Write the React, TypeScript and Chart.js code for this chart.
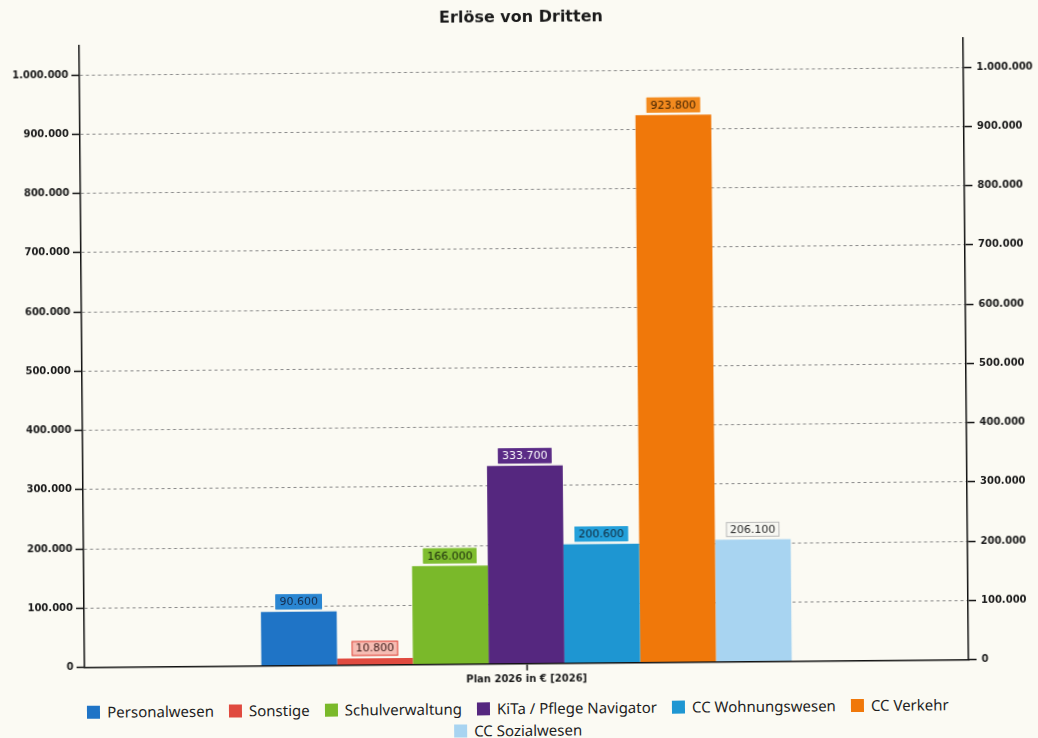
import React, { useEffect, useRef } from "react";
import { Chart, registerables } from "chart.js";

Chart.register(...registerables);

const TITLE = "Erlöse von Dritten";
const CATEGORIES = ["Plan 2026 in € [2026]"];
const SERIES_NAMES = [
  "Personalwesen",
  "Sonstige",
  "Schulverwaltung",
  "KiTa / Pflege Navigator",
  "CC Wohnungswesen",
  "CC Verkehr",
  "CC Sozialwesen",
];
const SERIES_VALUES = [90600, 10800, 166000, 333700, 200600, 923800, 206100];
const SERIES_COLORS = ["#1f74c6", "#e04a3f", "#7ab92a", "#55277f", "#1e96d2", "#f0780a", "#a8d4f1"];
const LABEL_FILLS = ["#2a86d2", "#f6bcb3", "#7fbd30", "#5a2b86", "#24a0da", "#f38a1e", "#f7f7f2"];
const LABEL_BORDERS = ["#2a86d2", "#e04a3f", "#7fbd30", "#5a2b86", "#24a0da", "#f38a1e", "#b9b9b9"];
const LABEL_TEXT = ["#142a4a", "#3a1a18", "#1c2c0c", "#ffffff", "#10283a", "#3a1e00", "#2a2a2a"];
const Y_TICKS = [0, 100000, 200000, 300000, 400000, 500000, 600000, 700000, 800000, 900000, 1000000];
const Y_MAX = 1050000;

const BG = "#fbfaf3";

function fmt(v: number): string {
  return Math.round(v)
    .toString()
    .replace(/\B(?=(\d{3})+(?!\d))/g, ".");
}

const valueLabels = {
  id: "valueLabels",
  afterDatasetsDraw(chart: any) {
    const ctx = chart.ctx;
    ctx.save();
    ctx.font = "11px 'DejaVu Sans'";
    chart.data.datasets.forEach((ds: any, i: number) => {
      const meta = chart.getDatasetMeta(i);
      meta.data.forEach((el: any, j: number) => {
        const text = fmt(ds.data[j]);
        const w = ctx.measureText(text).width + 8;
        const h = 15;
        const x = el.x - w / 2;
        const y = el.y - h - 2.5;
        ctx.fillStyle = LABEL_FILLS[i];
        ctx.fillRect(x, y, w, h);
        ctx.strokeStyle = LABEL_BORDERS[i];
        ctx.lineWidth = 1;
        ctx.strokeRect(x + 0.5, y + 0.5, w - 1, h - 1);
        ctx.fillStyle = LABEL_TEXT[i];
        ctx.textAlign = "center";
        ctx.textBaseline = "middle";
        ctx.fillText(text, el.x, y + h / 2 + 0.5);
      });
    });
    ctx.restore();
  },
};

const tickFont = { family: "'DejaVu Sans'", size: 10, weight: "bold" as const };
const setTicks = (axis: any) => {
  axis.ticks = Y_TICKS.map((v) => ({ value: v }));
};

export default function App() {
  const ref = useRef<HTMLCanvasElement | null>(null);

  useEffect(() => {
    document.body.style.margin = "0";
    document.body.style.background = BG;
    const canvas = ref.current;
    if (!canvas) return;
    const chart = new Chart(canvas, {
      type: "bar",
      data: {
        labels: CATEGORIES,
        datasets: SERIES_NAMES.map((name, i) => ({
          label: name,
          data: [SERIES_VALUES[i]],
          backgroundColor: SERIES_COLORS[i],
          borderWidth: 0,
          barPercentage: 1,
          categoryPercentage: 0.6,
          yAxisID: "y",
        })),
      },
      options: {
        responsive: false,
        animation: false,
        layout: { padding: 0 },
        plugins: {
          title: {
            display: true,
            text: TITLE,
            fullSize: false,
            color: "#1a1a1a",
            font: { family: "'DejaVu Sans'", size: 16, weight: "bold" },
            padding: { top: 8.5, bottom: 13.8 },
          },
          legend: { display: false },
          tooltip: { enabled: false },
        },
        scales: {
          x: {
            offset: true,
            grid: {
              display: true,
              drawOnChartArea: false,
              drawTicks: true,
              tickLength: 7,
              offset: false,
              tickColor: "#111",
              tickWidth: 1.5,
            },
            border: { display: true, color: "#111", width: 1.5 },
            ticks: { font: tickFont, color: "#1a1a1a", padding: 3 },
            afterFit: (s: any) => {
              s.height = 31.5;
            },
          },
          y: {
            position: "left",
            min: 0,
            max: Y_MAX,
            ticks: {
              callback: (v: any) => fmt(Number(v)),
              font: tickFont,
              color: "#1a1a1a",
              padding: 3,
              autoSkip: false,
            },
            grid: {
              color: "#8a8a8a",
              lineWidth: 1,
              drawTicks: true,
              tickLength: 8,
              tickColor: "#111",
              tickWidth: 1.5,
            },
            border: { display: true, color: "#111", width: 1.5, dash: [3, 3] },
            afterBuildTicks: setTicks,
            afterFit: (s: any) => {
              s.width = 82;
            },
          },
          y2: {
            position: "right",
            min: 0,
            max: Y_MAX,
            ticks: {
              callback: (v: any) => fmt(Number(v)),
              font: tickFont,
              color: "#1a1a1a",
              padding: 5,
              autoSkip: false,
            },
            grid: {
              drawOnChartArea: false,
              drawTicks: true,
              tickLength: 8,
              tickColor: "#111",
              tickWidth: 1.5,
            },
            border: { display: true, color: "#111", width: 1.5 },
            afterBuildTicks: setTicks,
            afterFit: (s: any) => {
              s.width = 72;
            },
          },
        },
      },
      plugins: [valueLabels],
    });
    return () => chart.destroy();
  }, []);

  return (
    <div
      style={{
        position: "relative",
        width: 1038,
        height: 738,
        background: BG,
        overflow: "hidden",
        transform: "rotate(-0.5deg)",
        transformOrigin: "50% 50%",
      }}
    >
      <canvas ref={ref} width={1038} height={695} style={{ display: "block" }} />
      <div
        style={{
          position: "absolute",
          left: 55,
          top: 697,
          width: 920,
          display: "flex",
          flexWrap: "wrap",
          justifyContent: "center",
          columnGap: 15,
          rowGap: 0,
          fontFamily: "'Noto Sans'",
          fontSize: 15,
          lineHeight: "22px",
          color: "#1e1e1e",
        }}
      >
        {SERIES_NAMES.map((name, i) => (
          <div key={name} style={{ display: "flex", alignItems: "center" }}>
            <span
              style={{
                display: "inline-block",
                width: 13,
                height: 13,
                background: SERIES_COLORS[i],
                marginRight: 7,
              }}
            />
            {name}
          </div>
        ))}
      </div>
    </div>
  );
}
